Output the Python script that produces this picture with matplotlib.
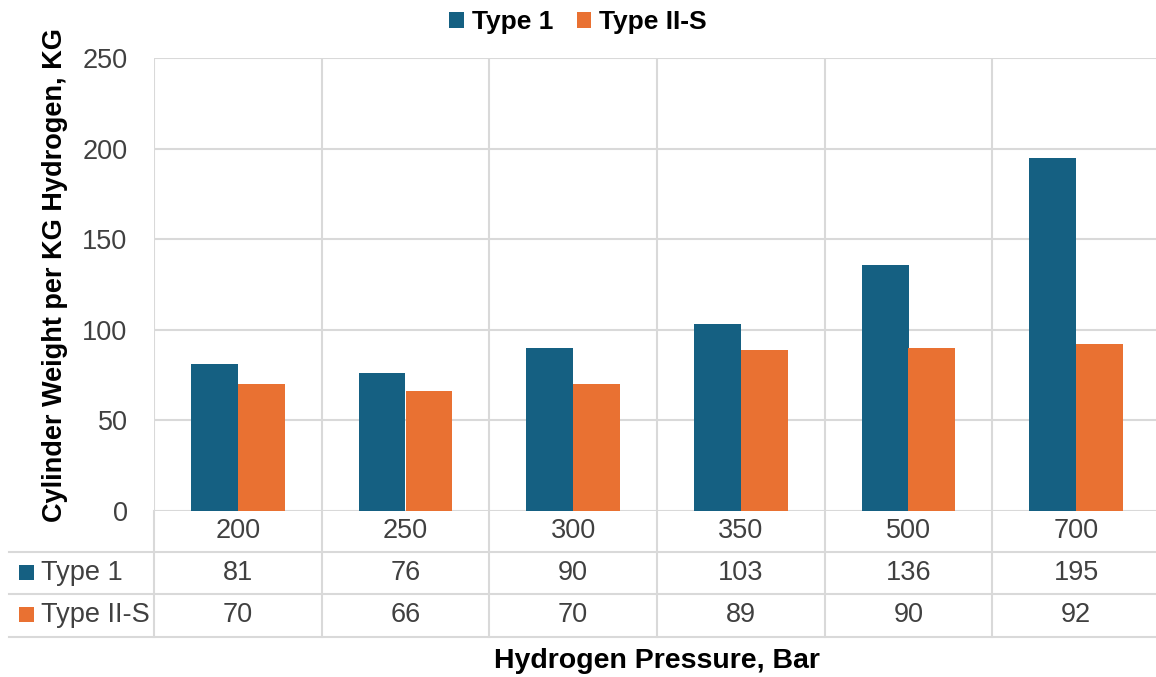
import matplotlib.pyplot as plt
import matplotlib.patches as patches
import numpy as np

# Data
pressures = ['200', '250', '300', '350', '500', '700']
type1 = [81, 76, 90, 103, 136, 195]
type2s = [70, 66, 70, 89, 90, 92]
series_names = ['Type 1', 'Type II-S']

# Colors
BLUE = '#156082'
ORANGE = '#E97132'
GRID = '#D9D9D9'
TXT = '#404040'
FS = 19.5

plt.rcParams['font.family'] = ['Liberation Sans', 'DejaVu Sans']

W, H = 1156, 677
fig = plt.figure(figsize=(W / 100, H / 100), dpi=100)

# plot area in pixels
L, R, T, B = 154, 1160, 58, 511
ax = fig.add_axes([L / W, (H - B) / H, (R - L) / W, (B - T) / H])

x = np.arange(len(pressures))
bw = 0.28
ax.bar(x - bw / 2, type1, bw, color=BLUE, label=series_names[0], zorder=3)
ax.bar(x + bw / 2, type2s, bw, color=ORANGE, label=series_names[1], zorder=3)

ax.set_xlim(-0.5, len(pressures) - 0.5)
ax.set_ylim(0, 250)
ax.set_yticks(np.arange(0, 251, 50))
ax.set_xticks(np.arange(-0.5, len(pressures)))
ax.set_xticklabels([])
ax.grid(True, color=GRID, linewidth=1.5, zorder=0)
for s in ax.spines.values():
    s.set_visible(False)
ax.tick_params(length=0, labelsize=FS, labelcolor=TXT, pad=19)

# data table drawn in pixel coords on an overlay axes
tb = fig.add_axes([0, 0, 1, 1], zorder=-1)
tb.set_xlim(0, W)
tb.set_ylim(H, 0)
tb.axis('off')

tb.text(55, 275, 'Cylinder Weight per KG Hydrogen, KG', rotation=90,
        ha='center', va='center', fontsize=19.5, fontweight='bold', color='black')

row_lines = [552, 594, 637]
for yl in row_lines:
    tb.plot([9, R], [yl, yl], color=GRID, linewidth=1.5)
# vertical lines at category boundaries
to_px = lambda xv: ax.transData.transform((xv, 0))[0]
for xv in np.arange(-0.5, len(pressures)):
    tb.plot([to_px(xv)] * 2, [B, row_lines[-1]], color=GRID, linewidth=1.5)

row_centers = [531, 573, 615]
for i, p in enumerate(pressures):
    cx = to_px(x[i])
    tb.text(cx, row_centers[0], p, ha='center', va='center', fontsize=FS, color=TXT)
    tb.text(cx, row_centers[1], str(type1[i]), ha='center', va='center', fontsize=FS, color=TXT)
    tb.text(cx, row_centers[2], str(type2s[i]), ha='center', va='center', fontsize=FS, color=TXT)

for name, col, yc in zip(series_names, [BLUE, ORANGE], row_centers[1:]):
    tb.add_patch(patches.Rectangle((19, yc - 8), 15, 15, facecolor=col, edgecolor='none'))
    tb.text(41, yc, name, ha='left', va='center', fontsize=FS, color=TXT)

tb.text((L + R) / 2, 661, 'Hydrogen Pressure, Bar', ha='center', va='center',
        fontsize=20.5, fontweight='bold', color='black')

fig.legend(loc='center', bbox_to_anchor=(0.5, 1 - 22 / H), ncol=2, frameon=False,
           prop={'size': 19, 'weight': 'bold'}, handlelength=0.55, handleheight=0.55,
           handletextpad=0.3, columnspacing=0.9)

fig.savefig('out.png', dpi=100)
